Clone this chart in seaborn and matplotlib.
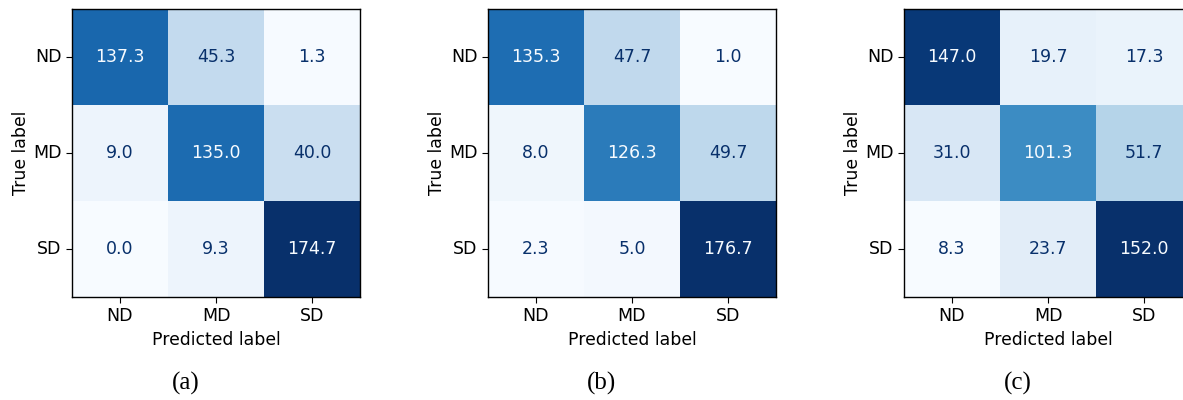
import numpy as np
import matplotlib
matplotlib.use("Agg")
import matplotlib.pyplot as plt
import seaborn as sns

classes = ["ND", "MD", "SD"]

cm_a = [[137.3, 45.3, 1.3],
        [9.0, 135.0, 40.0],
        [0.0, 9.3, 174.7]]
cm_b = [[135.3, 47.7, 1.0],
        [8.0, 126.3, 49.7],
        [2.3, 5.0, 176.7]]
cm_c = [[147.0, 19.7, 17.3],
        [31.0, 101.3, 51.7],
        [8.3, 23.7, 152.0]]

captions = ["(a)", "(b)", "(c)"]
matrices = [cm_a, cm_b, cm_c]

W, H = 1183, 400
fig = plt.figure(figsize=(W / 100, H / 100), dpi=100)

cmap = plt.get_cmap("Blues")
lefts = [72, 488, 904]
cap_x = [186, 602, 1018]
side = 288

for cm, left, cx, cap in zip(matrices, lefts, cap_x, captions):
    cm = np.asarray(cm)
    ax = fig.add_axes([left / W, 1 - 297 / H, side / W, side / H])
    sns.heatmap(cm, ax=ax, cmap="Blues", cbar=False, annot=True, fmt=".1f",
                annot_kws={"fontsize": 12.5}, xticklabels=classes,
                yticklabels=classes, square=False)
    thresh = (cm.max() + cm.min()) / 2.0
    for t, v in zip(ax.texts, cm.flatten()):
        t.set_color(cmap(0.0) if v > thresh else cmap(1.0))
    for s in ax.spines.values():
        s.set_visible(True)
        s.set_color("black")
        s.set_linewidth(1.0)
    ax.tick_params(axis="both", length=4, width=0.8, labelsize=12.5,
                   colors="black")
    plt.setp(ax.get_yticklabels(), rotation=0, va="center")
    ax.set_xlabel("Predicted label", fontsize=12.4)
    ax.set_ylabel("True label", fontsize=12.4, labelpad=2)
    fig.text(cx / W, 1 - 383 / H, cap, ha="center", va="center",
             fontsize=18, family="Liberation Serif")

fig.savefig("out.png", dpi=100)
